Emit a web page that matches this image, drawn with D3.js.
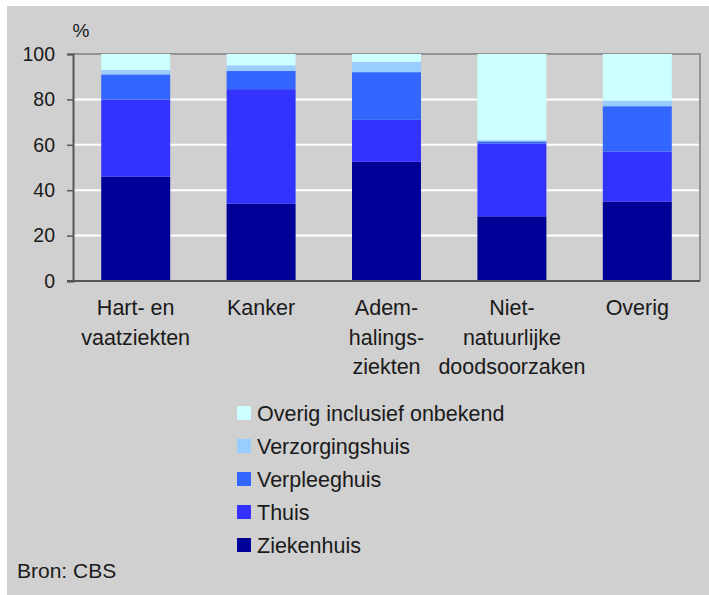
<!DOCTYPE html>
<html>
<head>
<meta charset="utf-8">
<script src="https://cdn.jsdelivr.net/npm/d3@7.9.0/dist/d3.min.js"></script>
<style>
  body { margin: 0; background: #fff; }
  text { font-family: Arial, "Liberation Sans", sans-serif; fill: #1a1a1a; }
</style>
</head>
<body>
<svg id="chart" width="709" height="595"></svg>
<script>
// categories (line breaks as in the source)
const categories = [
  ['Hart- en', 'vaatziekten'],
  ['Kanker'],
  ['Adem-', 'halings-', 'ziekten'],
  ['Niet-', 'natuurlijke', 'doodsoorzaken'],
  ['Overig']
];
// series, bottom to top, in %
const ziekenhuis      = [46, 34, 52.5, 28.5, 35];
const thuis           = [34, 50.5, 18.5, 32, 22];
const verpleeghuis    = [11, 8, 21, 1, 20];
const verzorgingshuis = [2, 2.5, 4.5, 0.5, 2.5];
const overig          = [7, 5, 3.5, 38, 20.5];
const seriesNames = ['Ziekenhuis', 'Thuis', 'Verpleeghuis', 'Verzorgingshuis', 'Overig inclusief onbekend'];
const seriesColors = ['#000096', '#3333ff', '#3366ff', '#99ccff', '#ccffff'];
const yTicks = [0, 20, 40, 60, 80, 100];

const svg = d3.select('#chart');

// background, with the thin white margin of the source at top and left
svg.append('rect').attr('x', 7).attr('y', 6).attr('width', 702).attr('height', 589).attr('fill', '#d0d0d0');

const plotLeft = 73, plotRight = 700, plotTop = 54, plotBottom = 281;

const x = d3.scaleBand()
  .domain(d3.range(categories.length))
  .range([plotLeft, plotRight])
  .paddingInner(0.45)
  .paddingOuter(0.225);
const y = d3.scaleLinear().domain([0, 100]).range([plotBottom, plotTop]);

// gridlines
svg.append('g')
  .selectAll('line')
  .data(yTicks.filter(d => d > 0 && d < 100))
  .join('line')
  .attr('x1', plotLeft).attr('x2', plotRight)
  .attr('y1', d => y(d)).attr('y2', d => y(d))
  .attr('stroke', '#ffffff').attr('stroke-width', 2);

// top and right border of the plot
svg.append('path')
  .attr('d', `M${plotLeft},${y(100)}H${plotRight}V${plotBottom}`)
  .attr('fill', 'none').attr('stroke', '#7f7f7f').attr('stroke-width', 1.5);

// stacked bars
const table = categories.map((c, i) => ({
  i,
  Ziekenhuis: ziekenhuis[i],
  Thuis: thuis[i],
  Verpleeghuis: verpleeghuis[i],
  Verzorgingshuis: verzorgingshuis[i],
  'Overig inclusief onbekend': overig[i]
}));
const stacked = d3.stack().keys(seriesNames)(table);

svg.append('g')
  .selectAll('g')
  .data(stacked)
  .join('g')
  .attr('fill', (d, k) => seriesColors[k])
  .selectAll('rect')
  .data(d => d)
  .join('rect')
  .attr('x', d => x(d.data.i))
  .attr('width', x.bandwidth())
  .attr('y', d => y(d[1]))
  .attr('height', d => y(d[0]) - y(d[1]));

// y axis
const yAxis = svg.append('g')
  .attr('transform', `translate(${plotLeft},0)`)
  .call(d3.axisLeft(y).tickValues(yTicks).tickSize(6).tickPadding(12));
yAxis.select('.domain').attr('stroke', '#555').attr('stroke-width', 2);
yAxis.selectAll('.tick line').attr('stroke', '#555').attr('stroke-width', 1.5);
yAxis.selectAll('.tick text')
  .style('font-size', '19.5px')
  .attr('fill', '#1a1a1a');

// x axis line
svg.append('line')
  .attr('x1', plotLeft - 6).attr('x2', plotRight)
  .attr('y1', plotBottom).attr('y2', plotBottom)
  .attr('stroke', '#555').attr('stroke-width', 2);

// unit
svg.append('text').attr('x', 81).attr('y', 37)
  .attr('text-anchor', 'middle').style('font-size', '19px').text('%');

// category labels
const catG = svg.append('g');
categories.forEach((lines, i) => {
  const cx = x(i) + x.bandwidth() / 2;
  const t = catG.append('text')
    .attr('x', cx)
    .attr('y', 315)
    .attr('text-anchor', 'middle')
    .style('font-size', '21.5px');
  lines.forEach((l, j) => {
    t.append('tspan').attr('x', cx).attr('dy', j === 0 ? 0 : 29.5).text(l);
  });
});

// legend (top to bottom: reversed order)
const legendOrder = d3.range(seriesNames.length).reverse();
const legend = svg.append('g');
legendOrder.forEach((k, row) => {
  const cy = 413 + row * 33;
  legend.append('rect')
    .attr('x', 237).attr('y', cy - 7)
    .attr('width', 14).attr('height', 14)
    .attr('fill', seriesColors[k]);
  legend.append('text')
    .attr('x', 257).attr('y', cy + 7.5)
    .style('font-size', '21.5px')
    .text(seriesNames[k]);
});

// source
svg.append('text').attr('x', 17).attr('y', 578)
  .style('font-size', '21px').text('Bron: CBS');
</script>
</body>
</html>
